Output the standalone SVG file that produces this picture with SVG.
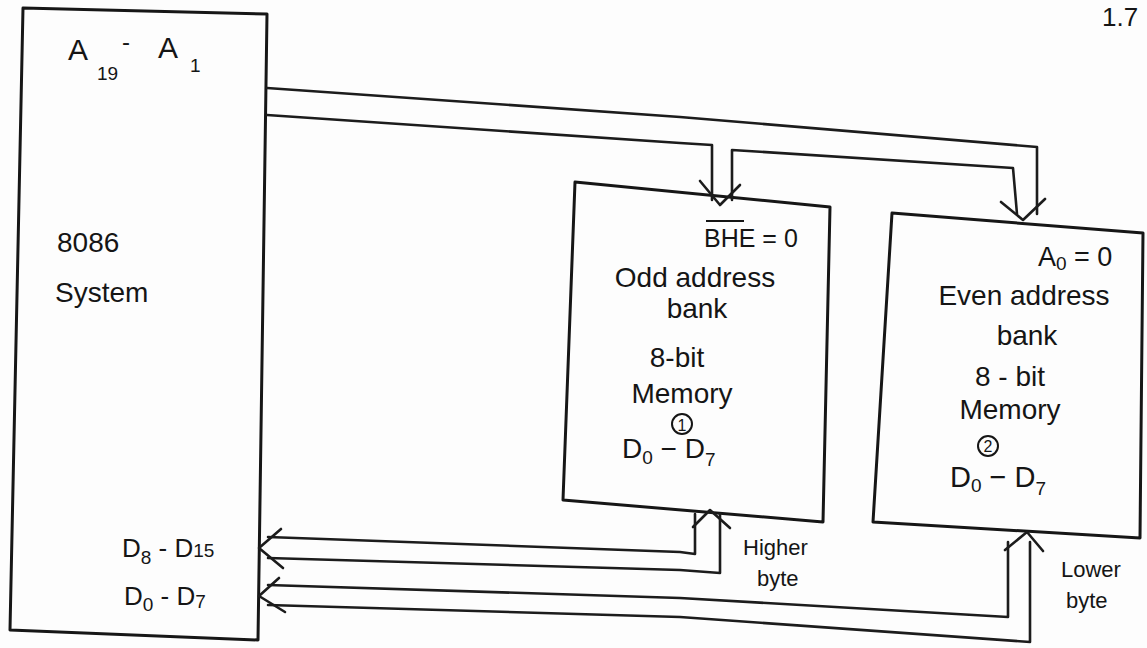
<svg xmlns="http://www.w3.org/2000/svg" width="1147" height="648" viewBox="0 0 1147 648">
<style>
.edge{fill:none;stroke:#1c1c1c;stroke-width:2.6;stroke-linejoin:round;stroke-linecap:round}
.box{fill:none;stroke:#161616;stroke-width:3;stroke-linejoin:round}
.t{font-family:"Liberation Sans",Arial,sans-serif;fill:#151515}
.l{font-size:28px}
.s{font-size:19px}
.c{text-anchor:middle}
</style>
<rect width="1147" height="648" fill="#fdfdfd"/>
<g id="system-8086">
<path class="box" d="M23,8 L267,14 L258,640 L10,630 Z"/>
<text class="t" x="68" y="60" font-size="30">A</text>
<text class="t s" x="97" y="80">19</text>
<text class="t" x="122" y="50" font-size="24">-</text>
<text class="t" x="158" y="58" font-size="30">A</text>
<text class="t s" x="190" y="72">1</text>
<text class="t l" x="57" y="252">8086</text>
<text class="t l" x="55" y="302">System</text>
<text class="t" x="122" y="557" font-size="26">D<tspan class="s" dy="7">8</tspan><tspan dy="-7"> - D</tspan><tspan class="s">15</tspan></text>
<text class="t" x="124" y="605" font-size="26">D<tspan class="s" dy="6">0</tspan><tspan dy="-6"> - D</tspan><tspan class="s" dy="3">7</tspan></text>
</g>
<g id="odd-bank">
<path class="box" d="M575,182 L830,207 L823,522 L563,500 Z"/>
<line x1="706" y1="221" x2="744" y2="221" stroke="#151515" stroke-width="2"/>
<text class="t" x="704" y="247" font-size="25">BHE = 0</text>
<text class="t l c" x="695" y="287">Odd address</text>
<text class="t l c" x="697" y="318">bank</text>
<text class="t l c" x="677" y="367">8-bit</text>
<text class="t l c" x="682" y="403">Memory</text>
<circle cx="682" cy="424" r="10" fill="none" stroke="#151515" stroke-width="2"/>
<text class="t c" x="682" y="431" font-size="16">1</text>
<text class="t" x="622" y="458" font-size="28">D<tspan class="s" dy="6">0</tspan><tspan dy="-6"> − D</tspan><tspan class="s" dy="8">7</tspan></text>
</g>
<g id="even-bank">
<path class="box" d="M892,213 L1143,233 L1140,538 L873,522 Z"/>
<text class="t" x="1038" y="266" font-size="27">A<tspan class="s" dy="4">0</tspan><tspan dy="-4"> = 0</tspan></text>
<text class="t l c" x="1024" y="305">Even address</text>
<text class="t l c" x="1027" y="345">bank</text>
<text class="t l c" x="1010" y="386">8 - bit</text>
<text class="t l c" x="1010" y="419">Memory</text>
<circle cx="988" cy="446" r="10" fill="none" stroke="#151515" stroke-width="2"/>
<text class="t c" x="988" y="452" font-size="16">2</text>
<text class="t" x="950" y="487" font-size="29">D<tspan class="s" dy="5">0</tspan><tspan dy="-5"> − D</tspan><tspan class="s" dy="8">7</tspan></text>
</g>
<g id="connectors">
<path class="edge" d="M267,88 L680,117 L1037,147 L1037,214"/>
<path class="edge" d="M267,115 L680,143 L712,145 L712,200"/>
<path class="edge" d="M732,200 L732,150 L1013,168 L1017,214"/>
<path class="edge" d="M700,181 L720,205 L740,185"/>
<path class="edge" d="M1001,202 L1023,220 L1045,199"/>
<path class="edge" d="M695,514 L695,554 L680,552 L268,537"/>
<path class="edge" d="M720,514 L720,573 L680,570 L268,558"/>
<path class="edge" d="M1008,542 L1008,617 L680,598 L268,585"/>
<path class="edge" d="M1030,542 L1030,642 L680,617 L268,605"/>
<path class="edge" d="M693,527 L710,510 L730,528"/>
<path class="edge" d="M1005,550 L1027,532 L1043,551"/>
<path class="edge" d="M281,529 L259,548 L283,568"/>
<path class="edge" d="M279,578 L259,596 L285,612"/>
</g>
<g id="labels">
<text class="t" x="743" y="555" font-size="22">Higher</text>
<text class="t" x="757" y="586" font-size="22">byte</text>
<text class="t" x="1061" y="577" font-size="22">Lower</text>
<text class="t" x="1066" y="608" font-size="22">byte</text>
<text class="t" x="1102" y="26" font-size="26">1.7</text>
</g>
</svg>
